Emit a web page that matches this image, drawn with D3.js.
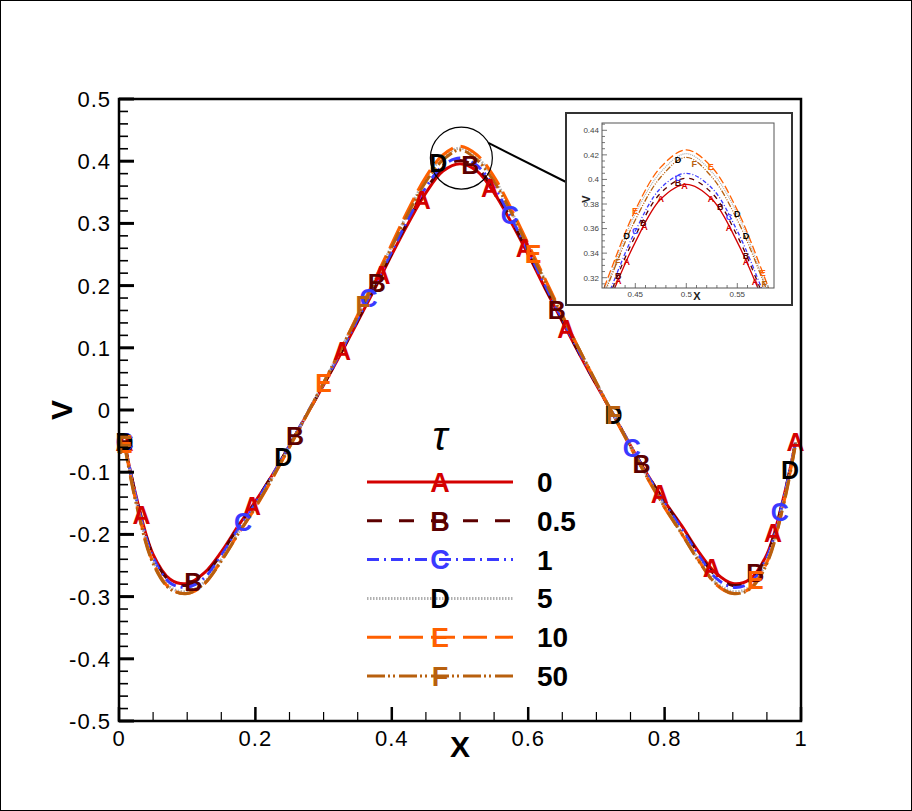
<!DOCTYPE html>
<html>
<head>
<meta charset="utf-8">
<script src="https://cdn.jsdelivr.net/npm/d3@7"></script>
<style>
  body { margin: 0; background: #fff; }
  svg { display: block; }
  text { font-family: "Liberation Sans", Arial, Helvetica, sans-serif; }
</style>
</head>
<body>
<script>

//////////////////////
// Data
//////////////////////

var xs = [0.008, 0.025, 0.05, 0.075, 0.1, 0.125, 0.15, 0.175, 0.2, 0.225, 0.25, 0.275, 0.3, 0.325, 0.35, 0.375, 0.4, 0.425, 0.45, 0.475, 0.5,
          0.525, 0.55, 0.575, 0.6, 0.625, 0.65, 0.675, 0.7, 0.725, 0.75, 0.775, 0.8, 0.825, 0.85, 0.875, 0.9, 0.925, 0.95, 0.975, 0.992];

var tauLabels = ["0", "0.5", "1", "5", "10", "50"];
var symbols = ["A", "B", "C", "D", "E", "F"];

var vA = [-0.052, -0.138, -0.232, -0.272, -0.279, -0.262, -0.228, -0.186, -0.147, -0.104, -0.057, -0.008, 0.040, 0.090, 0.142, 0.195, 0.250, 0.302, 0.349, 0.384, 0.396,
          0.384, 0.349, 0.302, 0.250, 0.195, 0.142, 0.090, 0.040, -0.008, -0.057, -0.104, -0.147, -0.186, -0.228, -0.262, -0.279, -0.272, -0.232, -0.138, -0.052];
var vB = [-0.052, -0.139, -0.234, -0.275, -0.282, -0.266, -0.231, -0.188, -0.148, -0.104, -0.057, -0.008, 0.041, 0.091, 0.144, 0.197, 0.252, 0.306, 0.354, 0.389, 0.401,
          0.389, 0.354, 0.306, 0.252, 0.197, 0.144, 0.091, 0.041, -0.008, -0.057, -0.104, -0.148, -0.188, -0.231, -0.266, -0.282, -0.275, -0.234, -0.139, -0.052];
var vC = [-0.052, -0.140, -0.237, -0.278, -0.285, -0.270, -0.234, -0.191, -0.150, -0.105, -0.057, -0.007, 0.042, 0.093, 0.146, 0.200, 0.255, 0.309, 0.358, 0.393, 0.405,
          0.393, 0.358, 0.309, 0.255, 0.200, 0.146, 0.093, 0.042, -0.007, -0.057, -0.105, -0.150, -0.191, -0.234, -0.270, -0.285, -0.278, -0.237, -0.140, -0.052];
var vD = [-0.052, -0.145, -0.242, -0.285, -0.292, -0.277, -0.240, -0.197, -0.155, -0.108, -0.058, -0.008, 0.044, 0.097, 0.152, 0.208, 0.264, 0.320, 0.372, 0.406, 0.421,
          0.406, 0.372, 0.320, 0.264, 0.208, 0.152, 0.097, 0.044, -0.008, -0.058, -0.108, -0.155, -0.197, -0.240, -0.277, -0.292, -0.285, -0.242, -0.145, -0.052];
var vE = [-0.054, -0.148, -0.245, -0.287, -0.295, -0.280, -0.242, -0.199, -0.157, -0.110, -0.060, -0.009, 0.043, 0.097, 0.153, 0.210, 0.267, 0.324, 0.375, 0.410, 0.424,
          0.410, 0.375, 0.324, 0.267, 0.210, 0.153, 0.097, 0.043, -0.009, -0.060, -0.110, -0.157, -0.199, -0.242, -0.280, -0.295, -0.287, -0.245, -0.148, -0.054];
var vF = [-0.056, -0.150, -0.247, -0.288, -0.295, -0.279, -0.243, -0.199, -0.156, -0.109, -0.059, -0.008, 0.044, 0.097, 0.151, 0.206, 0.262, 0.318, 0.367, 0.402, 0.418,
          0.402, 0.367, 0.318, 0.262, 0.206, 0.151, 0.097, 0.044, -0.008, -0.059, -0.109, -0.156, -0.199, -0.243, -0.279, -0.295, -0.288, -0.247, -0.150, -0.056];

// x positions of the letter symbols, main plot
var markA = [0.008, 0.033, 0.195, 0.327, 0.385, 0.444, 0.544, 0.595, 0.656, 0.793, 0.869, 0.959, 0.992];
var markB = [0.008, 0.109, 0.258, 0.378, 0.515, 0.642, 0.766, 0.933];
var markC = [0.008, 0.182, 0.366, 0.573, 0.752, 0.969];
var markD = [0.008, 0.241, 0.468, 0.725, 0.984];
var markE = [0.008, 0.30, 0.607, 0.933];
var markF = [0.008, 0.358, 0.725];

// x positions of the letter symbols, zoom inset
var insetA = [0.4333, 0.4415, 0.459, 0.475, 0.4983, 0.5242, 0.5419, 0.5585, 0.5673];
var insetB = [0.4333, 0.4578, 0.4918, 0.5333, 0.5585];
var insetC = [0.45, 0.4918, 0.5418];
var insetD = [0.4415, 0.4918, 0.55, 0.5585];
var insetE = [0.4497, 0.524, 0.575];
var insetF = [0.4327, 0.5078, 0.5763];

var xTicks = [0, 0.2, 0.4, 0.6, 0.8, 1];
var yTicks = [-0.5, -0.4, -0.3, -0.2, -0.1, 0, 0.1, 0.2, 0.3, 0.4, 0.5];
var xTicksInset = [0.45, 0.5, 0.55];
var yTicksInset = [0.32, 0.34, 0.36, 0.38, 0.4, 0.42, 0.44];

//////////////////////
// Styles
//////////////////////

var lineColors = ["#d40000", "#5c0000", "#3a3aff", "#b0b0b0", "#ff6000", "#b8600e"];
var markColors = ["#d40000", "#5c0000", "#3a3aff", "#000000", "#ff6000", "#b8600e"];
var dashes = [null, "15,17", "12,5,2,5", "1.5,1.5", "24,8", "18,3,2,3,2,4"];
var dashesInset = [null, "5,5", "4,2,1,2", "1,1", "8,3", "6,1.5,1,1.5,1,1.5"];

var series = [vA, vB, vC, vD, vE, vF];
var marks = [markA, markB, markC, markD, markE, markF];
var insetMarks = [insetA, insetB, insetC, insetD, insetE, insetF];

// plain hyphen for negatives, like the original
function fmt(t) { return String(+t.toFixed(3)); }

//////////////////////
// Setup
//////////////////////

var W = 912, H = 811;
var svg = d3.select("body").append("svg").attr("width", W).attr("height", H);

svg.append("rect").attr("x", 0.5).attr("y", 0.5).attr("width", W - 1).attr("height", H - 1)
    .attr("fill", "#fff").attr("stroke", "#000").attr("stroke-width", 1);

var x = d3.scaleLinear().domain([0, 1]).range([119, 801]);
var y = d3.scaleLinear().domain([-0.5, 0.5]).range([721, 99]);

function valueAt(vals, xv) {
    var i = d3.bisectLeft(xs, xv);
    if (i <= 0) return vals[0];
    if (i >= xs.length) return vals[xs.length - 1];
    var t = (xv - xs[i - 1]) / (xs[i] - xs[i - 1]);
    return vals[i - 1] + t * (vals[i] - vals[i - 1]);
}

svg.append("clipPath").attr("id", "clipMain").append("rect")
    .attr("x", x(0)).attr("y", y(0.5)).attr("width", x(1) - x(0)).attr("height", y(-0.5) - y(0.5));

//////////////////////
// Main curves
//////////////////////

var line = d3.line()
    .x(function(d) { return x(d[0]); })
    .y(function(d) { return y(d[1]); })
    .curve(d3.curveCatmullRom.alpha(0.5));

var gLines = svg.append("g").attr("clip-path", "url(#clipMain)");
series.forEach(function(vals, k) {
    gLines.append("path")
        .datum(xs.map(function(xv, i) { return [xv, vals[i]]; }))
        .attr("d", line)
        .attr("fill", "none")
        .attr("stroke", lineColors[k])
        .attr("stroke-width", 3)
        .attr("stroke-dasharray", dashes[k]);
});

var gMarks = svg.append("g");
series.forEach(function(vals, k) {
    gMarks.selectAll(null)
        .data(marks[k])
        .enter()
        .append("text")
            .attr("x", function(d) { return x(d); })
            .attr("y", function(d) { return y(valueAt(vals, d)); })
            .attr("dy", "0.36em")
            .attr("text-anchor", "middle")
            .attr("font-size", 25)
            .attr("font-weight", "bold")
            .attr("fill", markColors[k])
            .text(symbols[k]);
});

//////////////////////
// Axes
//////////////////////

var gAxes = svg.append("g");
gAxes.append("rect")
    .attr("x", x(0)).attr("y", y(0.5)).attr("width", x(1) - x(0)).attr("height", y(-0.5) - y(0.5))
    .attr("fill", "none").attr("stroke", "#000").attr("stroke-width", 2.5);

// minor ticks
d3.range(0, 1.0001, 0.05).forEach(function(t) {
    gAxes.append("line").attr("x1", x(t)).attr("x2", x(t)).attr("y1", y(-0.5)).attr("y2", y(-0.5) - 9)
        .attr("stroke", "#000").attr("stroke-width", 1.2);
});
d3.range(-0.5, 0.5001, 0.02).forEach(function(t) {
    gAxes.append("line").attr("x1", x(0)).attr("x2", x(0) + 9).attr("y1", y(t)).attr("y2", y(t))
        .attr("stroke", "#000").attr("stroke-width", 1.6);
});
// major ticks
xTicks.forEach(function(t) {
    gAxes.append("line").attr("x1", x(t)).attr("x2", x(t)).attr("y1", y(-0.5)).attr("y2", y(-0.5) - 14)
        .attr("stroke", "#000").attr("stroke-width", 2.5);
    gAxes.append("text").attr("x", x(t)).attr("y", 746)
        .attr("text-anchor", "middle").attr("font-size", 22).attr("letter-spacing", 1)
        .text(fmt(t));
});
yTicks.forEach(function(t) {
    gAxes.append("line").attr("x1", x(0)).attr("x2", x(0) + 15).attr("y1", y(t)).attr("y2", y(t))
        .attr("stroke", "#000").attr("stroke-width", 3);
    gAxes.append("text").attr("x", 111).attr("y", y(t)).attr("dy", "0.36em")
        .attr("text-anchor", "end").attr("font-size", 22).attr("letter-spacing", 1)
        .text(fmt(t));
});

svg.append("text").attr("x", 460).attr("y", 757).attr("text-anchor", "middle")
    .attr("font-size", 30).attr("font-weight", "bold").text("X");
svg.append("text").attr("transform", "translate(72,410) rotate(-90)").attr("text-anchor", "middle")
    .attr("font-size", 30).attr("font-weight", "bold").text("V");

//////////////////////
// Legend
//////////////////////

var gLeg = svg.append("g");
gLeg.append("text").attr("x", 440).attr("y", 450).attr("text-anchor", "middle")
    .attr("font-family", "DejaVu Serif, Liberation Serif, serif").attr("font-style", "italic")
    .attr("font-size", 40).text("τ");

var legY = d3.scaleLinear().domain([0, 5]).range([482, 676]);
tauLabels.forEach(function(lab, k) {
    var yy = legY(k);
    gLeg.append("line").attr("x1", 367).attr("x2", 513).attr("y1", yy).attr("y2", yy)
        .attr("stroke", lineColors[k]).attr("stroke-width", 3).attr("stroke-dasharray", dashes[k]);
    gLeg.append("text").attr("x", 440).attr("y", yy).attr("dy", "0.36em").attr("text-anchor", "middle")
        .attr("font-size", 27).attr("font-weight", "bold").attr("fill", markColors[k]).text(symbols[k]);
    gLeg.append("text").attr("x", 537).attr("y", yy).attr("dy", "0.36em")
        .attr("font-size", 28).attr("font-weight", "bold").text(lab);
});

//////////////////////
// Zoom circle + inset
//////////////////////

var cx = x(0.502), cy = y(0.405), cr = 31;
svg.append("circle").attr("cx", cx).attr("cy", cy).attr("r", cr)
    .attr("fill", "none").attr("stroke", "#000").attr("stroke-width", 1.2);
svg.append("line")
    .attr("x1", cx + cr * Math.cos(-0.51)).attr("y1", cy + cr * Math.sin(-0.51))
    .attr("x2", 566).attr("y2", 182)
    .attr("stroke", "#000").attr("stroke-width", 2);

var gIn = svg.append("g");
gIn.append("rect").attr("x", 566).attr("y", 113).attr("width", 226).attr("height", 192)
    .attr("fill", "#fff").attr("stroke", "#333").attr("stroke-width", 2);

var xi = d3.scaleLinear().domain([0.45, 0.55]).range([635.3, 737.3]);
var yi = d3.scaleLinear().domain([0.32, 0.44]).range([277.7, 130.3]);
var inL = 602, inR = 774, inT = 123, inB = 288;

svg.append("clipPath").attr("id", "clipInset").append("rect")
    .attr("x", inL).attr("y", inT).attr("width", inR - inL).attr("height", inB - inT);

var lineIn = d3.line()
    .x(function(d) { return xi(d[0]); })
    .y(function(d) { return yi(d[1]); })
    .curve(d3.curveCatmullRom.alpha(0.5));

var gInLines = gIn.append("g").attr("clip-path", "url(#clipInset)");
series.forEach(function(vals, k) {
    gInLines.append("path")
        .datum(xs.map(function(xv, i) { return [xv, vals[i]]; }))
        .attr("d", lineIn)
        .attr("fill", "none")
        .attr("stroke", lineColors[k])
        .attr("stroke-width", 1.3)
        .attr("stroke-dasharray", dashesInset[k]);
});
series.forEach(function(vals, k) {
    gInLines.selectAll(null)
        .data(insetMarks[k])
        .enter()
        .append("text")
            .attr("x", function(d) { return xi(d); })
            .attr("y", function(d) { return yi(valueAt(vals, d)); })
            .attr("dy", "0.36em")
            .attr("text-anchor", "middle")
            .attr("font-size", 9)
            .attr("font-weight", "bold")
            .attr("fill", markColors[k])
            .text(symbols[k]);
});

gIn.append("rect").attr("x", inL).attr("y", inT).attr("width", inR - inL).attr("height", inB - inT)
    .attr("fill", "none").attr("stroke", "#555").attr("stroke-width", 1);

d3.range(0.42, 0.5851, 0.01).forEach(function(t) {
    var major = xTicksInset.some(function(m) { return Math.abs(m - t) < 1e-6; });
    gIn.append("line").attr("x1", xi(t)).attr("x2", xi(t)).attr("y1", inB).attr("y2", inB - (major ? 5 : 3))
        .attr("stroke", "#555").attr("stroke-width", 0.8);
});
d3.range(0.315, 0.4451, 0.005).forEach(function(t) {
    var major = yTicksInset.some(function(m) { return Math.abs(m - t) < 1e-6; });
    gIn.append("line").attr("x1", inL).attr("x2", inL + (major ? 5 : 3)).attr("y1", yi(t)).attr("y2", yi(t))
        .attr("stroke", "#555").attr("stroke-width", 0.8);
});
xTicksInset.forEach(function(t) {
    gIn.append("text").attr("x", xi(t)).attr("y", 297).attr("text-anchor", "middle")
        .attr("font-size", 8).attr("fill", "#444").text(fmt(t));
});
yTicksInset.forEach(function(t) {
    gIn.append("text").attr("x", 599).attr("y", yi(t)).attr("dy", "0.35em").attr("text-anchor", "end")
        .attr("font-size", 8).attr("fill", "#444").text(fmt(t));
});
gIn.append("text").attr("x", 697).attr("y", 300).attr("text-anchor", "middle")
    .attr("font-size", 11).attr("font-weight", "bold").attr("fill", "#222").text("X");
gIn.append("text").attr("transform", "translate(590,199) rotate(-90)").attr("text-anchor", "middle")
    .attr("font-size", 11).attr("font-weight", "bold").attr("fill", "#222").text("V");

</script>
</body>
</html>
